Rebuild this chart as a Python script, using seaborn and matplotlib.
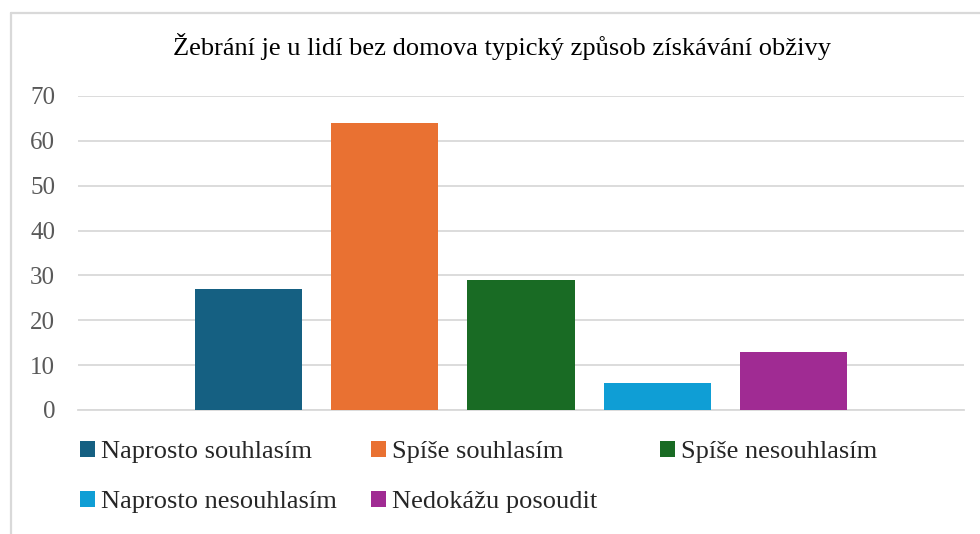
import matplotlib
matplotlib.use("Agg")
import matplotlib.pyplot as plt
from matplotlib.lines import Line2D
from matplotlib.patches import Patch
import seaborn as sns

# data
title = "Žebrání je u lidí bez domova typický způsob získávání obživy"
categories = ["Naprosto souhlasím", "Spíše souhlasím", "Spíše nesouhlasím",
              "Naprosto nesouhlasím", "Nedokážu posoudit"]
values = [27, 64, 29, 6, 13]
colors = ["#156082", "#E97132", "#196B24", "#0F9ED5", "#A02B93"]
yticks = [0, 10, 20, 30, 40, 50, 60, 70]

sns.set_theme(style="white")
plt.rcParams["font.family"] = ["Liberation Serif", "DejaVu Serif"]

W, H = 980, 534
fig = plt.figure(figsize=(W / 100, H / 100), dpi=100)
ax = fig.add_axes([78 / W, 1 - 410 / H, (964 - 78) / W, (410 - 96) / H])

sns.barplot(x=categories, y=values, hue=categories, palette=colors,
            saturation=1, width=0.787, legend=False, ax=ax, zorder=3,
            linewidth=0)

ax.set_xlim(-1.254, 5.254)
ax.set_ylim(0, 70)
ax.set_yticks(yticks)
ax.set_xticks([])
ax.set_xlabel("")
ax.set_ylabel("")
ax.grid(axis="y", color="#D9D9D9", linewidth=1.3, zorder=0)
for s in ["top", "right", "left"]:
    ax.spines[s].set_visible(False)
ax.spines["bottom"].set_color("#D9D9D9")
ax.spines["bottom"].set_linewidth(1.3)
ax.tick_params(axis="y", length=0, pad=16.5, labelsize=18, labelcolor="#595959")

fig.text(502 / W, 1 - 47 / H, title, ha="center", va="center",
         fontsize=19, color="#000000")

# legend entries placed like the Excel legend grid
leg_pos = [(80, 452), (371, 452), (660, 452), (80, 502), (371, 502)]
for cat, col, (px, py) in zip(categories, colors, leg_pos):
    leg = fig.legend(handles=[Patch(facecolor=col, edgecolor="none")], labels=[cat],
                     loc="center left", bbox_to_anchor=(px / W, 1 - py / H),
                     frameon=False, fontsize=19, handlelength=0.55, handleheight=0.55,
                     handletextpad=0.25, borderpad=0, borderaxespad=0)

# chart area border
fig.add_artist(Line2D([11 / W, 11 / W], [0, 1 - 13 / H], color="#D9D9D9", linewidth=1.6))
fig.add_artist(Line2D([11 / W, 1], [1 - 13 / H, 1 - 13 / H], color="#D9D9D9", linewidth=1.6))

fig.savefig("out.png", dpi=100)
